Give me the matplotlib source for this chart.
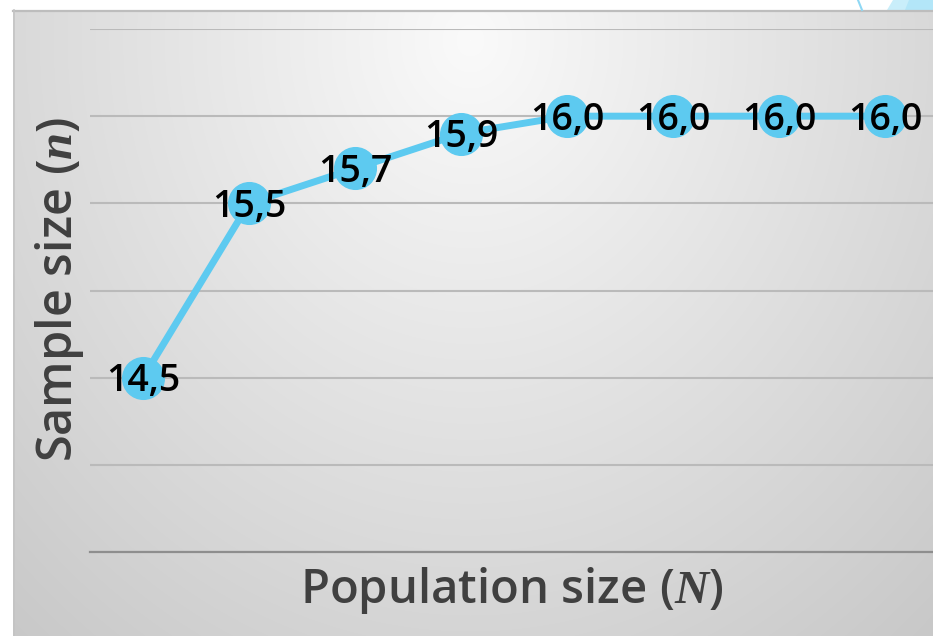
import numpy as np
import matplotlib
matplotlib.use("Agg")
import matplotlib.pyplot as plt
from matplotlib.patches import Polygon

# Data
categories = ["1", "2", "3", "4", "5", "6", "7", "8"]
sample_size = [14.5, 15.5, 15.7, 15.9, 16.0, 16.0, 16.0, 16.0]
value_labels = ["14,5", "15,5", "15,7", "15,9", "16,0", "16,0", "16,0", "16,0"]

W, H = 933, 636
DPI = 100
LINE_COLOR = "#5DCAF0"

plt.rcParams["mathtext.fontset"] = "custom"
plt.rcParams["mathtext.it"] = "Liberation Serif:italic:bold"
plt.rcParams["mathtext.rm"] = "Liberation Serif:bold"

fig = plt.figure(figsize=(W / DPI, H / DPI), dpi=DPI, facecolor="white")

# Background panel with a soft radial gradient
bg = fig.add_axes([0, 0, 1, 1], zorder=0)
bg.set_xlim(0, W)
bg.set_ylim(H, 0)
bg.axis("off")
x0, y0 = 13, 10
xx, yy = np.meshgrid(np.arange(x0, W + 1), np.arange(y0, H + 1))
cx, cy = 470, 40
d = np.sqrt(((xx - cx) / 1.0) ** 2 + ((yy - cy) / 1.15) ** 2)
shade = np.clip(250 - 0.072 * d, 195, 250) / 255.0
img = np.dstack([shade, shade, shade])
bg.imshow(img, extent=(x0, W + 1, H + 1, y0), aspect="auto", interpolation="bilinear")
bg.plot([x0, W], [y0 + 0.5, y0 + 0.5], color="#bdbdbd", lw=1.6)
bg.plot([x0 + 0.5, x0 + 0.5], [y0, H], color="#c4c4c4", lw=1.2)
# decorative shapes peeking above the panel
bg.add_patch(Polygon([[887, y0], [893, 0], [W, 0], [W, y0]], closed=True,
                     facecolor="#c9eefa", edgecolor="none"))
bg.add_patch(Polygon([[905, y0], [909, 0], [W, 0], [W, y0]], closed=True,
                     facecolor="#b3e6f8", edgecolor="none"))
bg.plot([858, 862], [0, y0], color="#8fd8f4", lw=1.5)

# Main chart
left, right = 90, 938
top, bottom = 29, 552
ax = fig.add_axes([left / W, (H - bottom) / H, (right - left) / W, (bottom - top) / H], zorder=1)
ax.set_facecolor("none")
x = np.arange(len(categories))
ax.set_xlim(-0.5, len(categories) - 0.5)
ax.set_ylim(13.5, 16.5)
ax.set_yticks(np.arange(13.5, 16.51, 0.5))
ax.set_xticks([])
ax.tick_params(axis="y", length=0, labelleft=False)
ax.grid(axis="y", color="#bababa", lw=1.5)
ax.set_axisbelow(True)
for s in ["top", "right", "left"]:
    ax.spines[s].set_visible(False)
ax.spines["bottom"].set_color("#8e8e8e")
ax.spines["bottom"].set_linewidth(1.6)

ax.plot(x, sample_size, color=LINE_COLOR, lw=5, marker="o", ms=30,
        markerfacecolor=LINE_COLOR, markeredgecolor=LINE_COLOR, zorder=3,
        solid_capstyle="round")

for xi, yi, lab in zip(x, sample_size, value_labels):
    ax.annotate(lab, (xi, yi), xytext=(0, -9.8), textcoords="offset points",
                ha="center", va="baseline", fontsize=27, family="Open Sans",
                fontweight="semibold", color="#000000", zorder=4)

ax.set_xlabel("Population size ($N$)", fontsize=34, family="Open Sans",
              fontweight="semibold", color="#404040", va="baseline")
ax.xaxis.set_label_coords((512 - left) / (right - left), (bottom - 603) / (bottom - top))
ax.set_ylabel("Sample size ($n$)", fontsize=35, family="Open Sans",
              fontweight="semibold", color="#404040", va="baseline", ha="center",
              rotation_mode="anchor")
ax.yaxis.set_label_coords((72 - left) / (right - left), (bottom - 289) / (bottom - top))

fig.savefig("out.png", dpi=DPI, facecolor="white")
